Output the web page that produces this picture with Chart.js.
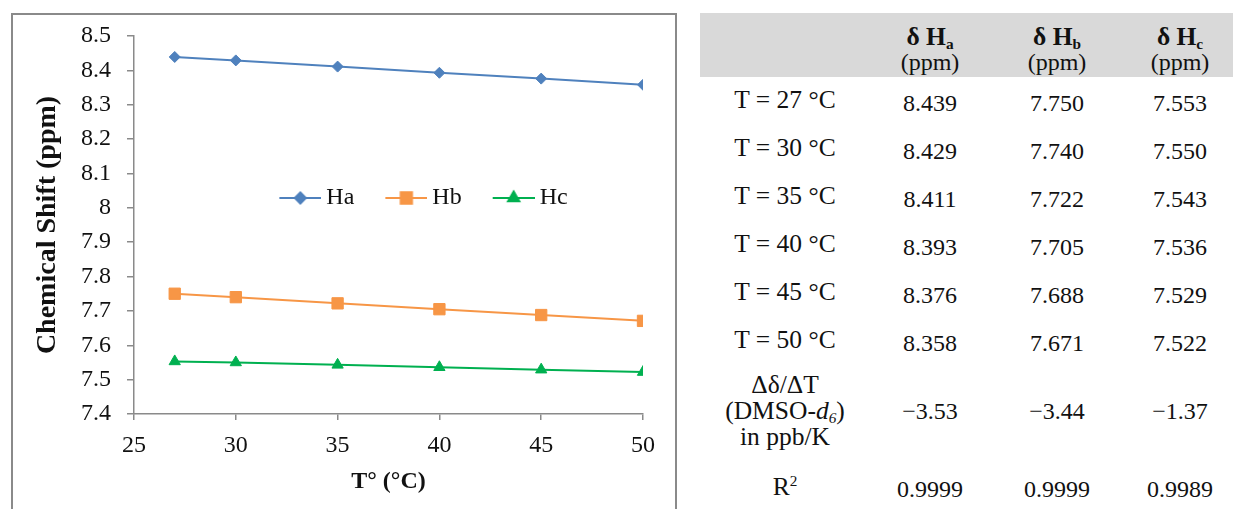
<!DOCTYPE html>
<html>
<head>
<meta charset="utf-8">
<script src="https://cdn.jsdelivr.net/npm/chart.js@4/dist/chart.umd.min.js"></script>
<style>
  body { margin: 0; background: #fff; width: 1233px; height: 509px; overflow: hidden; position: relative; font-family: "Liberation Serif", serif; color: #111; }
  #frame { position: absolute; left: 11px; top: 13px; width: 666px; height: 520px; border: 2px solid #8a8a8a; box-sizing: border-box; }
  #chartWrap { position: absolute; left: 0; top: 0; width: 690px; height: 509px; }
  #hdr { position: absolute; left: 700px; top: 13px; width: 533px; height: 64px; background: #d9d9d9; }
  .cell { position: absolute; transform: translate(-50%, -50%); white-space: nowrap; line-height: 1; font-size: 24px; text-align: center; }
  .cell.lbl { font-size: 25.5px; }
  .cell.b { font-weight: bold; font-size: 25.5px; }
  sub { font-size: 0.6em; vertical-align: -0.25em; line-height: 0; }
  sup { font-size: 0.6em; vertical-align: 0.6em; line-height: 0; }
</style>
</head>
<body>
<div id="frame"></div>
<div id="chartWrap"><canvas id="shiftChart" width="690" height="509"></canvas></div>
<div id="hdr"></div>
<div id="table"></div>
<script>
// temperatures (°C) and chemical shifts (ppm)
const temps = [27, 30, 35, 40, 45, 50];
const shiftHa = [8.439, 8.429, 8.411, 8.393, 8.376, 8.358];
const shiftHb = [7.750, 7.740, 7.722, 7.705, 7.688, 7.671];
const shiftHc = [7.553, 7.550, 7.543, 7.536, 7.529, 7.522];
const seriesNames = ["Ha", "Hb", "Hc"];
const slopes = ["\u22123.53", "\u22123.44", "\u22121.37"];
const rSquared = ["0.9999", "0.9999", "0.9989"];

const colors = ["#4f81bd", "#f79646", "#00b050"];
const styles = ["rectRot", "rect", "triangle"];
const radii = [5.5, 8, 6.5];

// small line+marker images for the legend
function legendIcon(i) {
  const c = document.createElement("canvas");
  c.width = 56; c.height = 18;
  const g = c.getContext("2d");
  g.strokeStyle = colors[i];
  g.lineWidth = 2;
  g.beginPath(); g.moveTo(14, 9); g.lineTo(56, 9); g.stroke();
  g.fillStyle = colors[i];
  Chart.helpers.drawPoint(g, { pointStyle: styles[i], radius: radii[i], rotation: 0, borderWidth: 1 }, 35, 9);
  return c;
}

const sets = [shiftHa, shiftHb, shiftHc];
const serif = "'Liberation Serif', 'Times New Roman', serif";

// legend sits inside the plot, in one row
const moveLegend = {
  id: "moveLegend",
  beforeUpdate(chart) {
    if (chart.legend) chart.legend.isHorizontal = () => true;
  },
  afterLayout(chart) {
    const lg = chart.legend;
    const w = lg.right - lg.left;
    lg.left = 420 - w / 2;
    lg.right = 420 + w / 2;
    lg.top = 198 - 24 - 12;
  },
};

new Chart(document.getElementById("shiftChart"), {
  type: "line",
  data: {
    datasets: sets.map((vals, i) => ({
      label: seriesNames[i],
      data: temps.map((t, k) => ({ x: t, y: vals[k] })),
      borderColor: colors[i],
      backgroundColor: colors[i],
      borderWidth: 2,
      pointStyle: styles[i],
      pointRadius: radii[i],
      pointBorderWidth: 1,
      tension: 0,
    })),
  },
  options: {
    responsive: false,
    animation: false,
    events: [],
    layout: { padding: { top: 36, right: 47, left: 0, bottom: 0 } },
    plugins: {
      legend: {
        position: "chartArea",
        labels: {
          usePointStyle: true,
          pointStyleWidth: 42,
          padding: 24,
          color: "#111",
          font: { family: serif, size: 24 },
          generateLabels(chart) {
            const items = Chart.defaults.plugins.legend.labels.generateLabels(chart);
            items.forEach((it, i) => { it.pointStyle = legendIcon(i); });
            return items;
          },
        },
      },
      tooltip: { enabled: false },
    },
    scales: {
      x: {
        type: "linear",
        min: 25,
        max: 50,
        afterFit(s) { s.height = 95; },
        ticks: { stepSize: 5, padding: 11, color: "#111", font: { family: serif, size: 24 } },
        grid: { drawOnChartArea: false, tickLength: 6, color: "#8a8a8a", lineWidth: 1.5 },
        border: { color: "#8a8a8a", width: 1.5 },
        title: { display: true, text: "T\u00b0 (\u00b0C)", color: "#111", font: { family: serif, size: 24, weight: "bold" }, padding: { top: 0, bottom: 13 } },
      },
      y: {
        min: 7.4,
        max: 8.5,
        afterFit(s) { s.width = 134; },
        ticks: {
          stepSize: 0.1,
          padding: 16,
          color: "#111",
          font: { family: serif, size: 24 },
          callback: (v) => String(Number(v.toFixed(1))),
        },
        grid: { drawOnChartArea: false, tickLength: 7, color: "#8a8a8a", lineWidth: 1.5 },
        border: { color: "#8a8a8a", width: 1.5 },
        title: { display: true, text: "Chemical Shift (ppm)", color: "#111", font: { family: serif, size: 28, weight: "bold" }, padding: { top: 31, bottom: 0 } },
      },
    },
  },
  plugins: [moveLegend],
});

// table on the right, built from the same arrays
const colX = [930, 1057, 1180];
const labelX = 785;
const rowY = [100, 148, 196, 244, 292, 340];
const table = document.getElementById("table");
function cell(x, y, html, cls) {
  const d = document.createElement("div");
  d.className = "cell" + (cls ? " " + cls : "");
  d.style.left = x + "px";
  d.style.top = y + "px";
  d.innerHTML = html;
  table.appendChild(d);
}
const subs = ["a", "b", "c"];
subs.forEach((s, j) => {
  cell(colX[j], 37, "\u03b4 H<sub>" + s + "</sub>", "b");
  cell(colX[j], 62, "(ppm)");
});
temps.forEach((t, k) => {
  cell(labelX, rowY[k], "T = " + t + " \u00b0C", "lbl");
  sets.forEach((vals, j) => cell(colX[j], rowY[k] + 3, vals[k].toFixed(3)));
});
cell(labelX, 385, "\u0394\u03b4/\u0394T", "lbl");
cell(labelX, 411, "(DMSO-<i>d<sub>6</sub></i>)", "lbl");
cell(labelX, 437, "in ppb/K", "lbl");
slopes.forEach((s, j) => cell(colX[j], 411, s));
cell(labelX, 487, "R<sup>2</sup>", "lbl");
rSquared.forEach((r, j) => cell(colX[j], 489, r));
</script>
</body>
</html>
